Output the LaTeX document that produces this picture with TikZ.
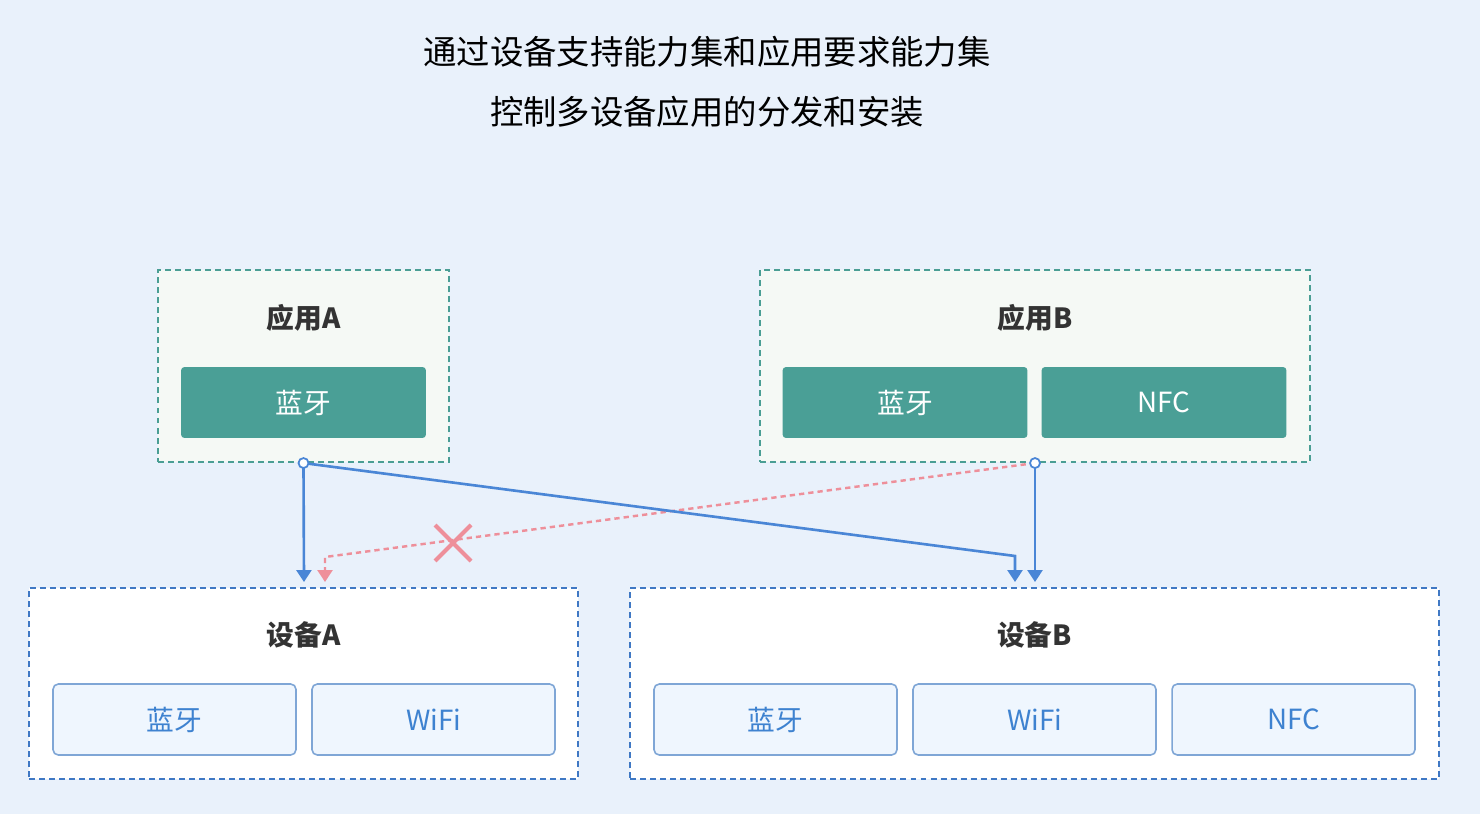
\documentclass[tikz,border=0pt]{standalone}
\usepackage{fontspec}
\setmainfont{Noto Sans CJK SC}
\usetikzlibrary{arrows.meta,positioning}

\definecolor{bgblue}{HTML}{E9F1FB}
\definecolor{appfill}{HTML}{F5F9F5}
\definecolor{tealline}{HTML}{4A9E94}
\definecolor{tealfill}{HTML}{4A9F96}
\definecolor{devline}{HTML}{3F78C4}
\definecolor{capfill}{HTML}{EFF6FE}
\definecolor{capline}{HTML}{7FA6D6}
\definecolor{captext}{HTML}{3E82D0}
\definecolor{linkblue}{HTML}{4A86D6}
\definecolor{linkpink}{HTML}{EE8F9A}

\begin{document}
\begin{tikzpicture}[
    x=0.02cm, y=-0.02cm,
    appbox/.style={rectangle, draw=tealline, fill=appfill, line width=1.2pt, dash pattern=on 3.4pt off 2.3pt, minimum height=3.84cm},
    devbox/.style={rectangle, draw=devline, fill=white, line width=1.2pt, dash pattern=on 3.4pt off 2.3pt, minimum height=3.82cm},
    needcap/.style={rectangle, rounded corners=2pt, fill=tealfill, text=white, minimum width=4.9cm, minimum height=1.42cm, font=\fontsize{15.8pt}{18pt}\selectfont},
    hascap/.style={rectangle, rounded corners=3pt, draw=capline, line width=0.9pt, fill=capfill, text=captext, minimum width=4.86cm, minimum height=1.42cm, font=\fontsize{15.8pt}{18pt}\selectfont},
    boxtitle/.style={font=\fontsize{15.8pt}{18pt}\selectfont\bfseries, text=black!80},
    dot/.style={circle, draw=linkblue, fill=white, line width=1pt, inner sep=0pt, minimum size=0.2cm},
    link/.style={-{Triangle[length=6.8pt, width=8.5pt]}, draw=linkblue, line width=1.5pt},
    nolink/.style={-{Triangle[length=6.8pt, width=8.5pt]}, draw=linkpink, line width=1.4pt, dash pattern=on 3pt off 2.3pt}
]

% Background
\fill[bgblue] (0,0) rectangle (1480,814);

% Title
\node[font=\fontsize{19pt}{23pt}\selectfont] (title1) at (707,52) {通过设备支持能力集和应用要求能力集};
\node[font=\fontsize{19pt}{23pt}\selectfont] (title2) at (707,112) {控制多设备应用的分发和安装};

% Applications
\node[appbox, minimum width=5.82cm] (appA) at (303.5,366) {};
\node[boxtitle] (appAtitle) at (303.5,318) {应用A};
\node[needcap] (appAbt) at (303.5,402.5) {蓝牙};

\node[appbox, minimum width=11cm] (appB) at (1035,366) {};
\node[boxtitle] (appBtitle) at (1035,318) {应用B};
\node[needcap] (appBbt) at (905,402.5) {蓝牙};
\node[needcap] (appBnfc) at (1164,402.5) {NFC};

% Devices
\node[devbox, minimum width=10.98cm] (devA) at (303.5,683.5) {};
\node[boxtitle] (devAtitle) at (303.5,635) {设备A};
\node[hascap] (devAbt) at (174.5,719.5) {蓝牙};
\node[hascap] (devAwifi) at (433.5,719.5) {WiFi};

\node[devbox, minimum width=16.18cm] (devB) at (1034.5,683.5) {};
\node[boxtitle] (devBtitle) at (1034.5,635) {设备B};
\node[hascap] (devBbt) at (775.5,719.5) {蓝牙};
\node[hascap] (devBwifi) at (1034.5,719.5) {WiFi};
\node[hascap] (devBnfc) at (1293.5,719.5) {NFC};

% Connectors
\coordinate (inA) at (304,582);
\coordinate (inAno) at (325,582);
\coordinate (bendAno) at (325,557);
\coordinate (inBfromA) at (1015,582);
\coordinate (bendB) at (1015,556);
\coordinate (inB) at (1035,582);

\draw[nolink] (appB.south) -- (bendAno) -- (inAno);
\draw[link] (appA.south) -- (inA);
\draw[link] (appA.south) -- (bendB) -- (inBfromA);
\draw[link] (appB.south) -- (inB);

\node[dot] (outA) at (appA.south) {};
\node[dot] (outB) at (appB.south) {};

% Cross
\coordinate (cross) at (453,543);
\draw[linkpink, line width=2.4pt] ([shift={(-18,-18)}]cross) -- ([shift={(18,18)}]cross);
\draw[linkpink, line width=2.4pt] ([shift={(-18,18)}]cross) -- ([shift={(18,-18)}]cross);

\end{tikzpicture}
\end{document}
